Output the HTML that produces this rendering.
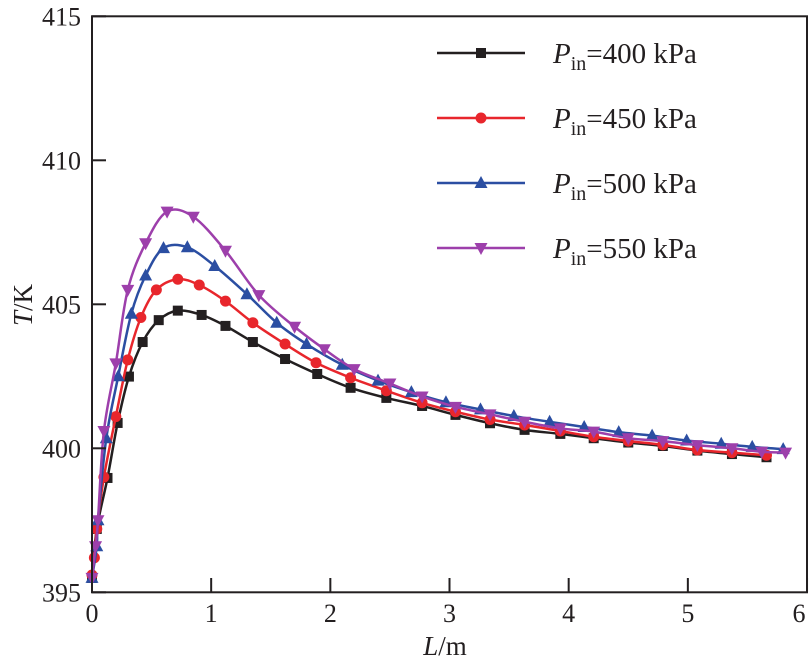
<!DOCTYPE html>
<html><head><meta charset="utf-8"><style>
html,body{margin:0;padding:0;background:#fff;}
svg text{font-family:"Liberation Serif","Times New Roman",serif;fill:#231f20;}
</style></head><body>
<svg id="chart" width="812" height="663" viewBox="0 0 812 663" xmlns="http://www.w3.org/2000/svg">
<g id="series"></g>
<rect x="92" y="16.3" width="715" height="576" fill="none" stroke="#231f20" stroke-width="2"/>
<g id="axes"></g>
<text transform="translate(32,305) rotate(-90)" text-anchor="middle" font-size="27"><tspan font-style="italic">T</tspan>/K</text>
<text x="445" y="655" text-anchor="middle" font-size="27"><tspan font-style="italic">L</tspan>/m</text>
<g id="legend"></g>
</svg>
<script>
const xTicks=[0,1,2,3,4,5,6];
const yTicks=[395,400,405,410,415];
const seriesNames=["400 kPa","450 kPa","500 kPa","550 kPa"];
const xs400=[0,0.04,0.13,0.215,0.31,0.425,0.56,0.72,0.92,1.12,1.35,1.62,1.89,2.17,2.47,2.77,3.05,3.34,3.63,3.93,4.21,4.5,4.79,5.08,5.37,5.66];
const ys400=[395.5,397.2,398.97,400.88,402.49,403.69,404.45,404.78,404.63,404.25,403.69,403.1,402.58,402.1,401.75,401.47,401.16,400.87,400.64,400.5,400.35,400.2,400.08,399.92,399.8,399.69];
const xs450=[0,0.02,0.04,0.1,0.2,0.3,0.41,0.54,0.72,0.9,1.12,1.35,1.62,1.88,2.17,2.47,2.77,3.05,3.34,3.63,3.93,4.21,4.5,4.79,5.08,5.37,5.66];
const ys450=[395.6,396.2,397.2,399.0,401.1,403.07,404.54,405.5,405.87,405.67,405.11,404.36,403.62,402.97,402.45,402.0,401.58,401.27,401.0,400.81,400.6,400.4,400.25,400.12,399.94,399.85,399.76];
const xs500=[0,0.04,0.05,0.12,0.22,0.33,0.45,0.6,0.8,1.03,1.3,1.55,1.8,2.1,2.4,2.68,2.97,3.26,3.54,3.84,4.13,4.42,4.7,4.99,5.28,5.54,5.8];
const ys500=[395.5,396.6,397.5,400.35,402.5,404.67,406.0,406.95,406.98,406.33,405.35,404.36,403.62,402.9,402.35,401.95,401.6,401.35,401.12,400.92,400.74,400.56,400.44,400.27,400.16,400.05,399.97];
const xs550=[0,0.03,0.05,0.1,0.2,0.3,0.45,0.63,0.85,1.12,1.4,1.7,1.95,2.2,2.5,2.77,3.05,3.34,3.63,3.93,4.21,4.5,4.79,5.08,5.37,5.62,5.82];
const ys550=[395.5,396.6,397.5,400.6,402.95,405.5,407.12,408.22,408.04,406.86,405.32,404.22,403.44,402.75,402.25,401.8,401.44,401.18,400.92,400.69,400.58,400.35,400.25,400.11,400.0,399.88,399.85];

const NS="http://www.w3.org/2000/svg";
const X=v=>92+v*119.17, Y=v=>592.3-(v-395)*28.8;
function mk(t,a,p){const e=document.createElementNS(NS,t);for(const k in a)e.setAttribute(k,a[k]);p.appendChild(e);return e;}
const axes=document.getElementById('axes');
xTicks.forEach(t=>{
  const l=mk('line',{x1:X(t),x2:X(t),y1:592.3,y2:578,stroke:'#231f20','stroke-width':2},axes);
  
  
  const tx=mk('text',{x:Math.min(X(t),799),y:622,'text-anchor':'middle','font-size':26},axes);
  tx.textContent=t;
  
  
});
yTicks.forEach(t=>{
  const l=mk('line',{x1:92,x2:106,y1:Y(t),y2:Y(t),stroke:'#231f20','stroke-width':2},axes);
  
  
  const tx=mk('text',{x:81,y:Y(t)+9,'text-anchor':'end','font-size':26},axes);
  tx.textContent=t;
  
  
});
function smooth(xs,ys){
  const P=xs.map((x,i)=>[X(x),Y(ys[i])]);
  let d=`M${P[0][0]},${P[0][1]}`;
  for(let i=0;i<P.length-1;i++){
    const p0=P[Math.max(i-1,0)],p1=P[i],p2=P[i+1],p3=P[Math.min(i+2,P.length-1)];
    const c1=[p1[0]+(p2[0]-p0[0])/6,p1[1]+(p2[1]-p0[1])/6];
    const c2=[p2[0]-(p3[0]-p1[0])/6,p2[1]-(p3[1]-p1[1])/6];
    d+=`C${c1[0]},${c1[1]} ${c2[0]},${c2[1]} ${p2[0]},${p2[1]}`;
  }
  return d;
}
function marker(type,x,y,c,g){
  let e;
  if(type==='sq')e=mk('rect',{x:x-5,y:y-5,width:10,height:10,fill:c},g);
  else if(type==='ci')e=mk('circle',{cx:x,cy:y,r:5.5,fill:c},g);
  else if(type==='up')e=mk('polygon',{points:`${x},${y-7} ${x-6.5},${y+5} ${x+6.5},${y+5}`,fill:c},g);
  else e=mk('polygon',{points:`${x},${y+7} ${x-6.5},${y-5} ${x+6.5},${y-5}`,fill:c},g);
  return e;
}
const S=[[xs400,ys400,'#231f20','sq'],[xs450,ys450,'#e8262c','ci'],[xs500,ys500,'#2b4ea2','up'],[xs550,ys550,'#9d3fab','dn']];
const sg=document.getElementById('series'), lg=document.getElementById('legend');
S.forEach((s,i)=>{
  const g=mk('g',{},sg);
  
  
  const p=mk('path',{d:smooth(s[0],s[1]),fill:'none',stroke:s[2],'stroke-width':2.5},g);
  
  
  s[0].forEach((x,j)=>{
    const m=marker(s[3],X(x),Y(s[1][j]),s[2],g);
    
    
  });
  const ly=53+i*65;
  const le=mk('g',{},lg);
  
  
  mk('line',{x1:437,x2:525,y1:ly,y2:ly,stroke:s[2],'stroke-width':2.5},le);
  marker(s[3],481,ly,s[2],le);
  const t=mk('text',{x:553,y:ly+10,'font-size':29},le);
  t.innerHTML=`<tspan font-style="italic">P</tspan><tspan font-size="20" dy="7">in</tspan><tspan dy="-7">=${seriesNames[i]}</tspan>`;
});
</script>
</body></html>
